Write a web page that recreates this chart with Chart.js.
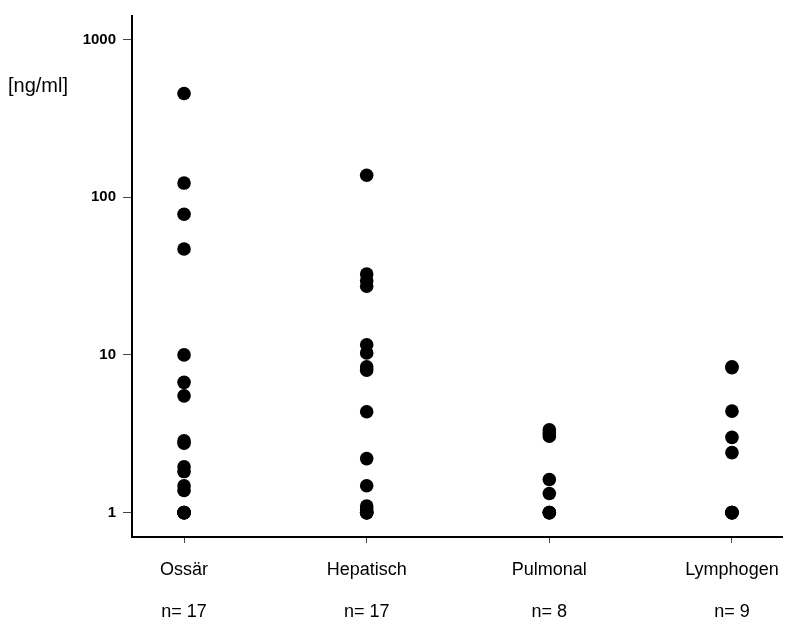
<!DOCTYPE html>
<html>
<head>
<meta charset="utf-8">
<script src="https://cdn.jsdelivr.net/npm/chart.js@4.4.1/dist/chart.umd.min.js"></script>
<style>
  html, body { margin: 0; padding: 0; background: #fff; }
  #wrap { width: 808px; height: 626px; position: relative; }
</style>
</head>
<body>
<div id="wrap"><canvas id="c"></canvas></div>
<script>
// Metastasis localisation groups and their measured concentrations [ng/ml]
const categories = ['Ossär', 'Hepatisch', 'Pulmonal', 'Lymphogen'];
const groupCounts = ['n= 17', 'n= 17', 'n= 8', 'n= 9'];

const ossaer    = [455, 123, 78, 47, 10, 6.7, 5.5, 2.85, 2.75, 1.95, 1.82, 1.48, 1.38, 1, 1, 1, 1];
const hepatisch = [138, 32.6, 29.5, 27.3, 11.6, 10.3, 8.4, 8.0, 4.36, 2.2, 1.48, 1.1, 1.05, 1, 1, 1, 1];
const pulmonal  = [3.35, 3.2, 3.05, 1.62, 1.32, 1, 1, 1];
const lymphogen = [8.4, 8.3, 4.4, 3.0, 2.4, 1, 1, 1, 1];

const yTicks = [1, 10, 100, 1000];
const unitLabel = '[ng/ml]';

const groups = [ossaer, hepatisch, pulmonal, lymphogen];
const points = [];
groups.forEach((vals, i) => vals.forEach(v => points.push({ x: i + 1, y: v })));

// Unit label in the upper left corner
const unitPlugin = {
  id: 'unitLabel',
  afterDraw(chart) {
    const ctx = chart.ctx;
    ctx.save();
    ctx.fillStyle = '#000';
    ctx.font = '20px "Liberation Sans", Arial, sans-serif';
    ctx.textAlign = 'left';
    ctx.textBaseline = 'middle';
    ctx.fillText(unitLabel, 8, 86);
    ctx.restore();
  }
};

new Chart(document.getElementById('c'), {
  type: 'scatter',
  data: {
    datasets: [{
      data: points,
      backgroundColor: '#000',
      borderColor: '#000',
      pointRadius: 6.8,
      pointHoverRadius: 6.8,
      borderWidth: 0
    }]
  },
  options: {
    responsive: true,
    maintainAspectRatio: false,
    animation: false,
    events: [],
    layout: { padding: { top: 13, right: 26, left: 0, bottom: 0 } },
    plugins: { legend: { display: false }, tooltip: { enabled: false } },
    scales: {
      x: {
        type: 'linear',
        min: 0.715,
        max: 4.274,
        afterBuildTicks(scale) { scale.ticks = categories.map((_, i) => ({ value: i + 1 })); },
        afterFit(scale) { scale.height = 89; },
        border: { display: true, color: '#000', width: 2 },
        grid: { drawOnChartArea: false, tickLength: 6, color: '#444', lineWidth: 1 },
        ticks: {
          padding: 7,
          color: '#000',
          font: { family: '"Liberation Sans", Arial, sans-serif', size: 18, lineHeight: 2.28 },
          maxRotation: 0,
          autoSkip: false,
          callback: (v) => [categories[v - 1], groupCounts[v - 1]]
        }
      },
      y: {
        type: 'logarithmic',
        min: 0.716,
        max: 1411,
        afterBuildTicks(scale) { scale.ticks = yTicks.map(v => ({ value: v })); },
        afterFit(scale) { scale.width = 132; },
        border: { display: true, color: '#000', width: 2 },
        grid: { drawOnChartArea: false, tickLength: 9, color: '#444', lineWidth: 1 },
        ticks: {
          padding: 7,
          color: '#000',
          font: { family: '"Liberation Sans", Arial, sans-serif', size: 15, weight: 'bold' },
          callback: (v) => String(v)
        }
      }
    }
  },
  plugins: [unitPlugin]
});
</script>
</body>
</html>
